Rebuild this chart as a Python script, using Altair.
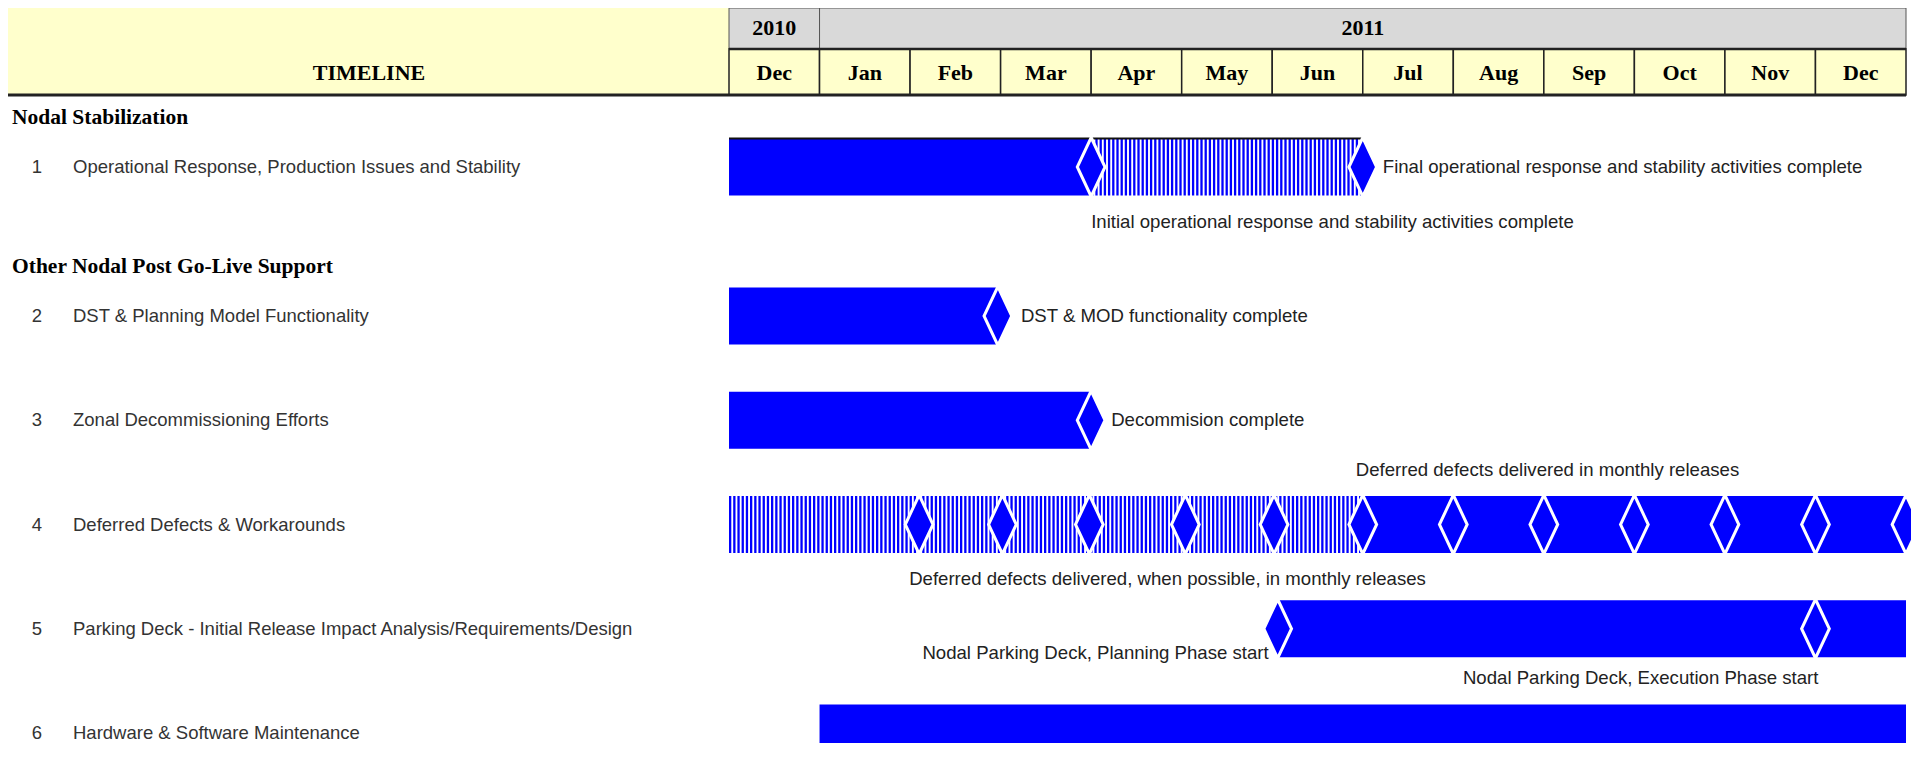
import altair as alt
import pandas as pd

# ---------------- data ----------------
HEADER_LABEL = "TIMELINE"
MONTHS = ["Dec", "Jan", "Feb", "Mar", "Apr", "May", "Jun", "Jul", "Aug", "Sep", "Oct", "Nov", "Dec"]
YEARS = ["2010", "2011"]
YEAR_START = [0, 1]          # months since 1 Dec 2010
YEAR_END = [1, 13]

SECTIONS = ["Nodal Stabilization", "Other Nodal Post Go-Live Support"]
SECTION_FIRST_TASK = [1, 2]

TASK_IDS = [1, 2, 3, 4, 5, 6]
TASK_NAMES = [
    "Operational Response, Production Issues and Stability",
    "DST & Planning Model Functionality",
    "Zonal Decommissioning Efforts",
    "Deferred Defects & Workarounds",
    "Parking Deck - Initial Release Impact Analysis/Requirements/Design",
    "Hardware & Software Maintenance",
]

# bar segments, in months since 1 Dec 2010
SEG_TASK = [1, 1, 2, 3, 4, 4, 5, 6]
SEG_START = [0, 4, 0, 0, 0, 7, 6.06, 1]
SEG_END = [4, 7, 2.97, 4, 7, 13, 13, 13]
SEG_KIND = ["solid", "hatched", "solid", "solid", "hatched", "solid", "solid", "solid"]

# milestones (diamonds)
MS_TASK = [1, 1, 2, 3, 4, 4, 4, 4, 4, 4, 4, 4, 4, 4, 4, 4, 5, 5]
MS_MONTH = [4, 7, 2.97, 4, 2.1, 3.02, 3.98, 5.04, 6.02, 7, 8, 9, 10, 11, 12, 13, 6.06, 12]

# annotations
NOTE_TEXT = [
    "Final operational response and stability activities complete",
    "Initial operational response and stability activities complete",
    "DST & MOD functionality complete",
    "Decommision complete",
    "Deferred defects delivered in monthly releases",
    "Deferred defects delivered, when possible, in monthly releases",
    "Nodal Parking Deck, Planning Phase start",
    "Nodal Parking Deck, Execution Phase start",
]
NOTE_TASK = [1, 1, 2, 3, 4, 4, 5, 5]
NOTE_MONTH = [7, 4, 2.97, 4, 7, 2.1, 6.06, 12]

# ---------------- layout / style ----------------
W, H = 1903, 735
X0, X1 = 721, 1898
ROW_DOMAIN = [1, 2, 6]
ROW_RANGE = [159, 308, 725]
BAR_H = 57
BLUE = "#0000FF"
YELLOW = "#FFFFCC"
GRAY = "#D9D9D9"
SERIF = "Liberation Serif"
SANS = "Liberation Sans"
LABEL_SIZE = 18.5
NOTE_SIZE = 18.6
HEAD_SIZE = 22
SECTION_SIZE = 21.5
NOTE_STYLE = [  # (align, dx, dy)
    ("left", 20, 0), ("left", 0, 55), ("left", 23, 0), ("left", 20, 0),
    ("left", -7, -55), ("left", -10, 54), ("right", -9, 24), ("right", 3, 49),
]
DIAMOND = "M0,-1L0.47,0L0,1L-0.47,0Z"


def xs():
    return alt.Scale(domain=[0, 13], range=[X0, X1], nice=False, zero=False)


def ys():
    return alt.Scale(domain=ROW_DOMAIN, range=ROW_RANGE, nice=False, zero=False)


one = pd.DataFrame({"label": [HEADER_LABEL]})
month_df = pd.DataFrame({"month": MONTHS, "start": list(range(len(MONTHS)))})
month_df["end"] = month_df["start"] + 1
month_df["mid"] = month_df["start"] + 0.5
year_df = pd.DataFrame({"year": YEARS, "start": YEAR_START, "end": YEAR_END})
year_df["mid"] = (year_df["start"] + year_df["end"]) / 2
section_df = pd.DataFrame({"section": SECTIONS, "first": SECTION_FIRST_TASK})
task_df = pd.DataFrame({"id": TASK_IDS, "name": TASK_NAMES})
seg_df = pd.DataFrame({"task": SEG_TASK, "start": SEG_START, "end": SEG_END, "kind": SEG_KIND})
ms_df = pd.DataFrame({"task": MS_TASK, "month": MS_MONTH})
note_df = pd.DataFrame({"text": NOTE_TEXT, "task": NOTE_TASK, "month": NOTE_MONTH})

layers = []

# header
layers.append(alt.Chart(one).mark_rect(color=YELLOW).encode(
    x=alt.value(0), x2=alt.value(X0), y=alt.value(0), y2=alt.value(87)))
layers.append(alt.Chart(year_df).mark_rect(fill=GRAY, stroke="#555", strokeWidth=1).encode(
    x=alt.X("start:Q", scale=xs(), axis=None), x2="end:Q", y=alt.value(0), y2=alt.value(41)))
layers.append(alt.Chart(month_df).mark_rect(fill=YELLOW, stroke="#222", strokeWidth=1.5).encode(
    x=alt.X("start:Q", scale=xs(), axis=None), x2="end:Q", y=alt.value(41), y2=alt.value(87)))
layers.append(alt.Chart(one).mark_rule(color="#222", strokeWidth=2.5).encode(
    x=alt.value(X0), x2=alt.value(X1), y=alt.value(41)))
layers.append(alt.Chart(one).mark_rule(color="#222", strokeWidth=3).encode(
    x=alt.value(0), x2=alt.value(X1), y=alt.value(87)))
layers.append(alt.Chart(year_df).mark_text(font=SERIF, fontSize=HEAD_SIZE, fontWeight="bold", color="#000", baseline="middle").encode(
    x=alt.X("mid:Q", scale=xs(), axis=None), y=alt.value(20), text="year:N"))
layers.append(alt.Chart(month_df).mark_text(font=SERIF, fontSize=HEAD_SIZE, fontWeight="bold", color="#000", baseline="middle").encode(
    x=alt.X("mid:Q", scale=xs(), axis=None), y=alt.value(65), text="month:N"))
layers.append(alt.Chart(one).mark_text(font=SERIF, fontSize=HEAD_SIZE, fontWeight="bold", color="#000", baseline="middle").encode(
    x=alt.value(361), y=alt.value(65), text="label:N"))

# section headers and task labels
layers.append(alt.Chart(section_df).mark_text(font=SERIF, fontSize=SECTION_SIZE, fontWeight="bold", color="#000",
                                              align="left", baseline="middle", dy=-49).encode(
    x=alt.value(4), y=alt.Y("first:Q", scale=ys(), axis=None), text="section:N"))
layers.append(alt.Chart(task_df).mark_text(font=SANS, fontSize=LABEL_SIZE, color="#333", align="center", baseline="middle").encode(
    x=alt.value(29), y=alt.Y("id:Q", scale=ys(), axis=None), text="id:N"))
layers.append(alt.Chart(task_df).mark_text(font=SANS, fontSize=LABEL_SIZE, color="#333", align="left", baseline="middle").encode(
    x=alt.value(65), y=alt.Y("id:Q", scale=ys(), axis=None), text="name:N"))

# bars
layers.append(alt.Chart(seg_df).transform_filter(alt.datum.kind == "solid").mark_rule(
    color=BLUE, strokeWidth=BAR_H, strokeCap="butt").encode(
    x=alt.X("start:Q", scale=xs(), axis=None), x2="end:Q", y=alt.Y("task:Q", scale=ys(), axis=None)))
layers.append(alt.Chart(seg_df).transform_filter(alt.datum.kind == "hatched").mark_rule(
    color=BLUE, strokeWidth=BAR_H, strokeCap="butt", strokeDash=[2.3, 1.9]).encode(
    x=alt.X("start:Q", scale=xs(), axis=None), x2="end:Q", y=alt.Y("task:Q", scale=ys(), axis=None)))
# thin dark top edge of the first task's bar
layers.append(alt.Chart(seg_df).transform_filter(alt.datum.task == 1).mark_rule(
    color="#111", strokeWidth=2, strokeCap="butt").encode(
    x=alt.X("start:Q", scale=xs(), axis=None), x2="end:Q", y=alt.Y("task:Q", scale=ys(), axis=None),
    yOffset=alt.value(-BAR_H / 2)))

# milestones
layers.append(alt.Chart(ms_df).mark_point(shape=DIAMOND, size=(BAR_H + 2) ** 2, filled=True, fill=BLUE,
                                          stroke="white", strokeWidth=3, opacity=1).encode(
    x=alt.X("month:Q", scale=xs(), axis=None), y=alt.Y("task:Q", scale=ys(), axis=None)))

# annotations
for i, (align, dx, dy) in enumerate(NOTE_STYLE):
    layers.append(alt.Chart(note_df.iloc[[i]]).mark_text(
        font=SANS, fontSize=NOTE_SIZE, color="#222", align=align, baseline="middle", dx=dx, dy=dy).encode(
        x=alt.X("month:Q", scale=xs(), axis=None), y=alt.Y("task:Q", scale=ys(), axis=None), text="text:N"))

chart = alt.layer(*layers).properties(
    width=W, height=H, padding=0, autosize=alt.AutoSizeParams(type="none"), background="white"
).configure_view(stroke=None)

chart.save("out.html", embed_options={"renderer": "svg", "actions": False})
